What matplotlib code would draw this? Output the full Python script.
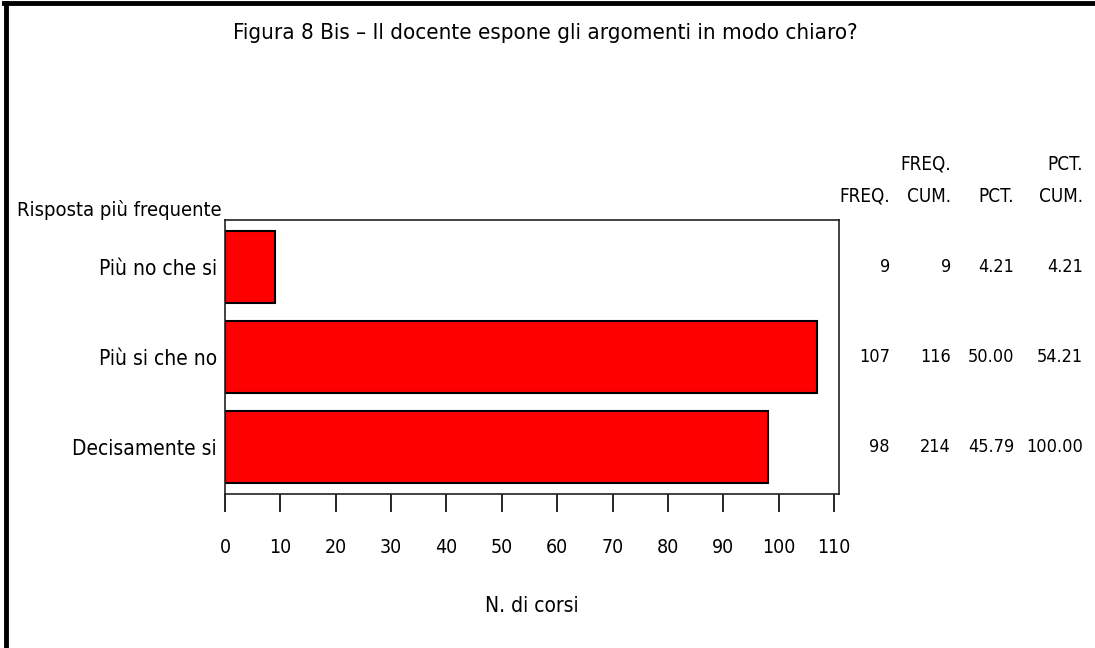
import matplotlib
matplotlib.use("Agg")
import matplotlib.pyplot as plt
from matplotlib import font_manager
from matplotlib.font_manager import FontProperties
from matplotlib.lines import Line2D
import matplotlib.transforms as mtransforms

categories = ["Più no che si", "Più si che no", "Decisamente si"]
freq = [9, 107, 98]
cum_freq = [9, 116, 214]
pct = ["4.21", "50.00", "45.79"]
cum_pct = ["4.21", "54.21", "100.00"]
xticks = list(range(0, 111, 10))

# find a narrow / condensed face
cand = None
files = [f.fname for f in font_manager.fontManager.ttflist]
for key in ["LiberationSansNarrow-Regular", "DejaVuSansCondensed.ttf", "Condensed", "Narrow"]:
    for fn in files:
        if key in fn and "Bold" not in fn and "Oblique" not in fn and "Italic" not in fn:
            cand = fn
            break
    if cand:
        break

def fp(size):
    if cand:
        return FontProperties(fname=cand, size=size)
    return FontProperties(family="DejaVu Sans", size=size)

W, H = 1095, 648
fig = plt.figure(figsize=(W / 100, H / 100), dpi=100)
fig.patch.set_facecolor("white")

def fx(px):
    return px / W

def fy(py):
    return 1 - py / H

ax = fig.add_axes([fx(225), fy(494), fx(839) - fx(225), fy(220) - fy(494)])
ypos = list(range(len(categories)))
ax.barh(ypos, freq, height=0.8, color="#ff0000", edgecolor="black", linewidth=1.5)
ax.set_ylim(2.52, -0.52)
ax.set_xlim(0, 110.9)
ax.set_yticks(ypos)
ax.set_yticklabels(categories, fontproperties=fp(15))
ax.tick_params(axis="y", length=0, pad=6)
ax.set_xticks(xticks)
ax.set_xticklabels([str(t) for t in xticks], fontproperties=fp(14))
ax.tick_params(axis="x", direction="out", length=13, width=1.2, pad=19, colors="black")
for s in ax.spines.values():
    s.set_color("#222222")
    s.set_linewidth(1.2)
ax.set_xlabel("N. di corsi", fontproperties=fp(15), labelpad=28)

fig.text(fx(545), fy(33), "Figura 8 Bis \u2013 Il docente espone gli argomenti in modo chiaro?",
         ha="center", va="center", fontproperties=fp(16))

fig.text(fx(17), fy(210), "Risposta più frequente", ha="left", va="center", fontproperties=fp(14.5))

cols_x = [890, 951, 1014, 1083]
fig.text(fx(cols_x[1]), fy(164), "FREQ.", ha="right", va="center", fontproperties=fp(13.5))
fig.text(fx(cols_x[3]), fy(164), "PCT.", ha="right", va="center", fontproperties=fp(13.5))
for cx, h in zip(cols_x, ["FREQ.", "CUM.", "PCT.", "CUM."]):
    fig.text(fx(cx), fy(196), h, ha="right", va="center", fontproperties=fp(13.5))

blend = mtransforms.blended_transform_factory(fig.transFigure, ax.transData)
for i in ypos:
    row = [str(freq[i]), str(cum_freq[i]), pct[i], cum_pct[i]]
    for cx, v in zip(cols_x, row):
        ax.text(fx(cx), i, v, transform=blend, ha="right", va="center", fontproperties=fp(13))

fig.add_artist(Line2D([fx(6), fx(6)], [0, fy(3)], transform=fig.transFigure, color="black", linewidth=3.5))
fig.add_artist(Line2D([fx(4), 1], [fy(3), fy(3)], transform=fig.transFigure, color="black", linewidth=3.5))

fig.savefig("out.png", dpi=100)
